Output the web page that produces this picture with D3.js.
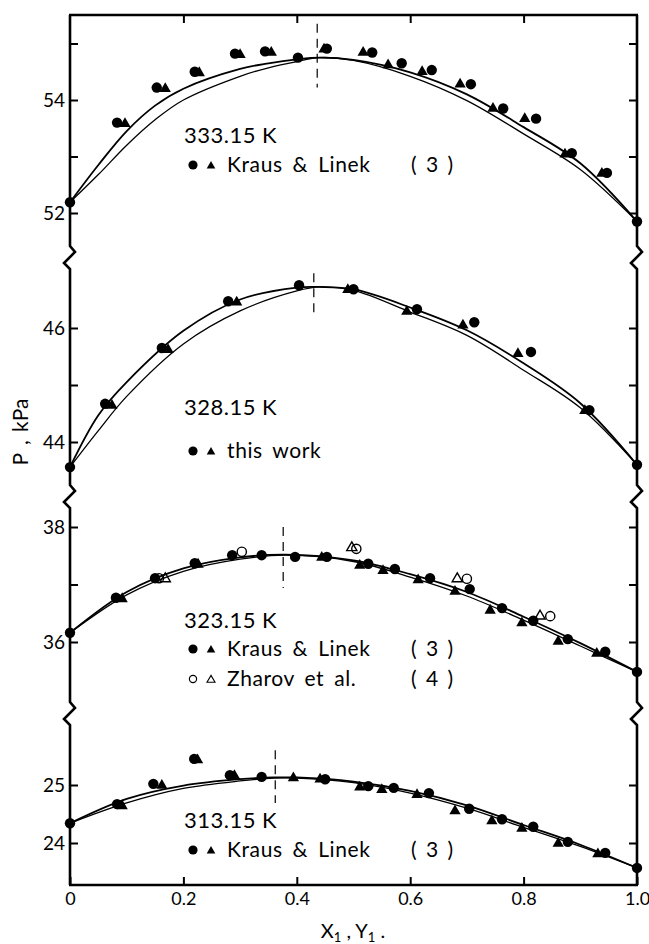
<!DOCTYPE html>
<html>
<head>
<meta charset="utf-8">
<title>Vapour pressure vs composition, four isotherms</title>
<script src="https://d3js.org/d3.v7.min.js"></script>
<style>
    body { margin: 0; background: #fff; }
    svg text { font-family: Lato, "DejaVu Sans", sans-serif; font-weight: 400; fill: #000; }
</style>
</head>
<body>
<div id="chart"></div>
<script>
// ---- data ----
var xTicks = [0, 0.2, 0.4, 0.6, 0.8, 1.0];
var xTickLabels = ["0", "0.2", "0.4", "0.6", "0.8", "1.0"];

// 333.15 K
var t333Ticks = [52, 53, 54, 55];
var t333Labels = [52, 54];
var t333Upper = [[0,52.19],[0.05,52.85],[0.1,53.45],[0.15,53.9],[0.2,54.2],[0.3,54.55],[0.35,54.65],[0.4,54.72],[0.44,54.75],[0.5,54.71],[0.6,54.49],[0.7,54.1],[0.8,53.52],[0.9,52.88],[1,51.85]];
var t333Lower = [[0,52.19],[0.05,52.68],[0.1,53.2],[0.15,53.65],[0.2,54.0],[0.3,54.42],[0.35,54.57],[0.4,54.68],[0.44,54.75],[0.5,54.7],[0.6,54.42],[0.7,53.99],[0.8,53.4],[0.9,52.77],[1,51.85]];
var t333Circles = [[0,52.19],[0.083,53.6],[0.153,54.22],[0.22,54.5],[0.291,54.82],[0.344,54.86],[0.402,54.75],[0.453,54.91],[0.533,54.84],[0.585,54.65],[0.638,54.53],[0.707,54.28],[0.764,53.85],[0.822,53.67],[0.885,53.06],[0.947,52.71],[1,51.85]];
var t333Triangles = [[0.097,53.58],[0.168,54.2],[0.228,54.48],[0.3,54.8],[0.355,54.84],[0.448,54.9],[0.517,54.84],[0.561,54.62],[0.621,54.5],[0.688,54.28],[0.746,53.85],[0.802,53.67],[0.873,53.04],[0.938,52.7]];
var t333Azeo = [0.436, 54.22, 55.35];

// 328.15 K
var t328Ticks = [44, 45, 46];
var t328Labels = [44, 46];
var t328Upper = [[0,43.56],[0.05,44.47],[0.1,45.05],[0.2,45.95],[0.3,46.5],[0.4,46.71],[0.44,46.72],[0.5,46.68],[0.6,46.36],[0.7,45.96],[0.8,45.38],[0.9,44.68],[1,43.6]];
var t328Lower = [[0,43.56],[0.05,44.2],[0.1,44.8],[0.2,45.72],[0.3,46.3],[0.4,46.65],[0.44,46.72],[0.5,46.66],[0.6,46.28],[0.7,45.87],[0.8,45.26],[0.9,44.6],[1,43.6]];
var t328Circles = [[0,43.56],[0.062,44.67],[0.162,45.65],[0.279,46.47],[0.404,46.75],[0.5,46.68],[0.612,46.33],[0.713,46.1],[0.813,45.58],[0.916,44.56],[1,43.6]];
var t328Triangles = [[0.074,44.64],[0.173,45.62],[0.294,46.45],[0.49,46.67],[0.594,46.29],[0.693,46.05],[0.79,45.55],[0.908,44.55]];
var t328Azeo = [0.43, 46.19, 46.96];

// 323.15 K
var t323Ticks = [36, 37, 38];
var t323Labels = [36, 38];
var t323Upper = [[0,36.16],[0.1,36.87],[0.2,37.28],[0.3,37.47],[0.38,37.52],[0.5,37.42],[0.6,37.18],[0.7,36.87],[0.8,36.44],[0.9,35.98],[1,35.48]];
var t323Lower = [[0,36.16],[0.1,36.82],[0.2,37.23],[0.3,37.44],[0.38,37.51],[0.5,37.4],[0.6,37.13],[0.7,36.8],[0.8,36.38],[0.9,35.93],[1,35.48]];
var t323Circles = [[0,36.16],[0.081,36.77],[0.15,37.11],[0.22,37.37],[0.286,37.51],[0.338,37.51],[0.397,37.48],[0.453,37.48],[0.526,37.36],[0.573,37.27],[0.635,37.11],[0.705,36.92],[0.762,36.59],[0.817,36.37],[0.878,36.05],[0.944,35.83],[1,35.48]];
var t323Triangles = [[0.092,36.75],[0.226,37.35],[0.444,37.47],[0.511,37.33],[0.552,37.24],[0.614,37.08],[0.679,36.88],[0.741,36.55],[0.797,36.33],[0.861,36.01],[0.929,35.8]];
var t323OpenCircles = [[0.157,37.11],[0.303,37.57],[0.505,37.62],[0.7,37.1],[0.847,36.45]];
var t323OpenTriangles = [[0.168,37.1],[0.497,37.64],[0.683,37.1],[0.829,36.45]];
var t323Azeo = [0.376, 36.94, 38.0];

// 313.15 K
var t313Ticks = [24, 25];
var t313Labels = [24, 25];
var t313Upper = [[0,24.34],[0.1,24.76],[0.2,24.99],[0.3,25.1],[0.36,25.13],[0.4,25.13],[0.5,25.06],[0.6,24.9],[0.7,24.65],[0.8,24.31],[0.9,23.97],[1,23.57]];
var t313Lower = [[0,24.34],[0.1,24.69],[0.2,24.94],[0.3,25.07],[0.36,25.12],[0.4,25.12],[0.5,25.04],[0.6,24.86],[0.7,24.6],[0.8,24.27],[0.9,23.94],[1,23.57]];
var t313Circles = [[0,24.34],[0.083,24.67],[0.147,25.02],[0.219,25.45],[0.282,25.17],[0.338,25.14],[0.45,25.1],[0.526,24.98],[0.571,24.95],[0.633,24.86],[0.704,24.59],[0.762,24.41],[0.817,24.28],[0.878,24.02],[0.944,23.83],[1,23.57]];
var t313Triangles = [[0.092,24.64],[0.162,24.99],[0.225,25.43],[0.29,25.16],[0.394,25.12],[0.441,25.1],[0.511,24.96],[0.55,24.92],[0.612,24.83],[0.679,24.55],[0.744,24.38],[0.797,24.25],[0.861,23.99],[0.931,23.81]];
var t313Azeo = [0.362, 24.69, 25.6];

// ---- layout ----
var width = 649, height = 944;
var X0 = 70, X1 = 637, TOP = 15, BOTTOM = 885;
var breaks = [258, 497, 714];

var panels = [
    { ticks: t333Ticks, labels: t333Labels, ref: [52, 54], px: [213, 100],
      upper: t333Upper, lower: t333Lower, circles: t333Circles, triangles: t333Triangles,
      openCircles: [], openTriangles: [], azeo: t333Azeo,
      title: "333.15 K", titleY: 143,
      legend: [{ y: 165, open: false, text: "Kraus & Linek", ref: "( 3 )" }] },
    { ticks: t328Ticks, labels: t328Labels, ref: [44, 46], px: [442, 328],
      upper: t328Upper, lower: t328Lower, circles: t328Circles, triangles: t328Triangles,
      openCircles: [], openTriangles: [], azeo: t328Azeo,
      title: "328.15 K", titleY: 415,
      legend: [{ y: 451, open: false, text: "this work", ref: "" }] },
    { ticks: t323Ticks, labels: t323Labels, ref: [36, 38], px: [642, 527],
      upper: t323Upper, lower: t323Lower, circles: t323Circles, triangles: t323Triangles,
      openCircles: t323OpenCircles, openTriangles: t323OpenTriangles, azeo: t323Azeo,
      title: "323.15 K", titleY: 628,
      legend: [{ y: 649, open: false, text: "Kraus & Linek", ref: "( 3 )" },
               { y: 679, open: true, text: "Zharov  et  al.", ref: "( 4 )" }] },
    { ticks: t313Ticks, labels: t313Labels, ref: [24, 25], px: [843, 785],
      upper: t313Upper, lower: t313Lower, circles: t313Circles, triangles: t313Triangles,
      openCircles: [], openTriangles: [], azeo: t313Azeo,
      title: "313.15 K", titleY: 828,
      legend: [{ y: 850, open: false, text: "Kraus & Linek", ref: "( 3 )" }] }
];

var svg = d3.select("#chart").append("svg")
    .attr("width", width)
    .attr("height", height);

svg.append("rect").attr("width", width).attr("height", height).attr("fill", "#fff");

var x = d3.scaleLinear().domain([0, 1]).range([X0, X1]);

// frame: top & bottom straight, both sides broken with zigzags
function sideWithBreaks(xa) {
    var pts = [[xa, TOP]];
    breaks.forEach(function(c) {
        pts.push([xa, c - 12], [xa + 5, c - 6], [xa - 6, c + 5], [xa, c + 11]);
    });
    pts.push([xa, BOTTOM]);
    return pts;
}
var frame = svg.append("g").attr("fill", "none").attr("stroke", "#000")
    .attr("stroke-width", 2.6).attr("stroke-linejoin", "miter");
frame.append("path").attr("d", d3.line()(sideWithBreaks(X0)));
frame.append("path").attr("d", d3.line()(sideWithBreaks(X1)));
frame.append("path").attr("d", d3.line()([[X0 - 1, TOP], [X1 + 1, TOP]]));
frame.append("path").attr("d", d3.line()([[X0 - 1, BOTTOM], [X1 + 1, BOTTOM]]));

function styleAxis(g, size) {
    g.select(".domain").remove();
    g.attr("font-family", null).attr("font-size", size);
    g.selectAll("line").attr("stroke", "#000").attr("stroke-width", 2);
    g.selectAll("text").attr("fill", "#000");
}

// x axis (ticks point up into the plot)
svg.append("g")
    .attr("transform", "translate(0," + BOTTOM + ")")
    .call(d3.axisBottom(x).tickValues(xTicks)
        .tickFormat(function(d, i) { return xTickLabels[i]; })
        .tickSizeInner(-8).tickSizeOuter(0).tickPadding(7))
    .call(styleAxis, 18);

svg.append("g")
    .attr("transform", "translate(0," + TOP + ")")
    .call(d3.axisTop(x).tickValues(xTicks.slice(1, -1)).tickFormat("")
        .tickSizeInner(-8).tickSizeOuter(0))
    .call(styleAxis, 18);

var sym = d3.symbol().type(d3.symbolTriangle);

panels.forEach(function(p) {
    var y = d3.scaleLinear().domain(p.ref).range(p.px);

    svg.append("g")
        .attr("transform", "translate(" + X0 + ",0)")
        .call(d3.axisLeft(y).tickValues(p.ticks)
            .tickFormat(function(d) { return p.labels.indexOf(d) >= 0 ? d : ""; })
            .tickSizeInner(-8).tickSizeOuter(0).tickPadding(5))
        .call(styleAxis, 19);

    svg.append("g")
        .attr("transform", "translate(" + X1 + ",0)")
        .call(d3.axisRight(y).tickValues(p.ticks).tickFormat("")
            .tickSizeInner(-8).tickSizeOuter(0))
        .call(styleAxis, 19);

    var line = d3.line()
        .x(function(d) { return x(d[0]); })
        .y(function(d) { return y(d[1]); })
        .curve(d3.curveCatmullRom.alpha(0.5));

    svg.append("path").datum(p.upper)
        .attr("d", line).attr("fill", "none").attr("stroke", "#000").attr("stroke-width", 1.8);
    svg.append("path").datum(p.lower)
        .attr("d", line).attr("fill", "none").attr("stroke", "#000").attr("stroke-width", 1.3);

    // azeotrope marker
    svg.append("line")
        .attr("x1", x(p.azeo[0])).attr("x2", x(p.azeo[0]))
        .attr("y1", y(p.azeo[2])).attr("y2", y(p.azeo[1]))
        .attr("stroke", "#000").attr("stroke-width", 1.2)
        .attr("stroke-dasharray", "9,6");

    svg.append("g").selectAll("path")
        .data(p.triangles).enter().append("path")
        .attr("d", sym.size(55)())
        .attr("transform", function(d) { return "translate(" + x(d[0]) + "," + y(d[1]) + ")"; })
        .attr("fill", "#000");

    svg.append("g").selectAll("circle")
        .data(p.circles).enter().append("circle")
        .attr("cx", function(d) { return x(d[0]); })
        .attr("cy", function(d) { return y(d[1]); })
        .attr("r", 5.2)
        .attr("fill", "#000");

    svg.append("g").selectAll("path")
        .data(p.openTriangles).enter().append("path")
        .attr("d", sym.size(45)())
        .attr("transform", function(d) { return "translate(" + x(d[0]) + "," + y(d[1]) + ")"; })
        .attr("fill", "none").attr("stroke", "#000").attr("stroke-width", 1.4);

    svg.append("g").selectAll("circle")
        .data(p.openCircles).enter().append("circle")
        .attr("cx", function(d) { return x(d[0]); })
        .attr("cy", function(d) { return y(d[1]); })
        .attr("r", 4.6)
        .attr("fill", "none").attr("stroke", "#000").attr("stroke-width", 1.4);

    // temperature + legend
    var LX = 184;
    svg.append("text").attr("x", LX).attr("y", p.titleY)
        .attr("font-size", 22).attr("letter-spacing", 0.5).text(p.title);

    p.legend.forEach(function(l) {
        svg.append("circle").attr("cx", LX + 9).attr("cy", l.y).attr("r", l.open ? 3.6 : 4.6)
            .attr("fill", l.open ? "none" : "#000").attr("stroke", "#000").attr("stroke-width", l.open ? 1.2 : 0);
        svg.append("path").attr("d", sym.size(l.open ? 28 : 32)())
            .attr("transform", "translate(" + (LX + 27) + "," + (l.y + 1) + ")")
            .attr("fill", l.open ? "none" : "#000").attr("stroke", "#000").attr("stroke-width", l.open ? 1.1 : 0);
        svg.append("text").attr("x", LX + 43).attr("y", l.y + 7)
            .attr("font-size", 21).attr("letter-spacing", 0.6).attr("word-spacing", 4)
            .text(l.text);
        if (l.ref) {
            svg.append("text").attr("x", 411).attr("y", l.y + 7)
                .attr("font-size", 21).attr("word-spacing", 4)
                .text(l.ref);
        }
    });
});

// axis titles
svg.append("text")
    .attr("transform", "translate(28,432) rotate(-90)")
    .attr("text-anchor", "middle")
    .attr("font-size", 21)
    .attr("word-spacing", 3)
    .text("P , kPa");

var xt = svg.append("text")
    .attr("x", 353).attr("y", 938)
    .attr("text-anchor", "middle")
    .attr("font-size", 20);
xt.append("tspan").text("X");
xt.append("tspan").attr("font-size", 13).attr("dy", 4).text("1");
xt.append("tspan").attr("dy", -4).text(" , Y");
xt.append("tspan").attr("font-size", 13).attr("dy", 4).text("1");
xt.append("tspan").attr("dy", -4).text("  .");
</script>
</body>
</html>
